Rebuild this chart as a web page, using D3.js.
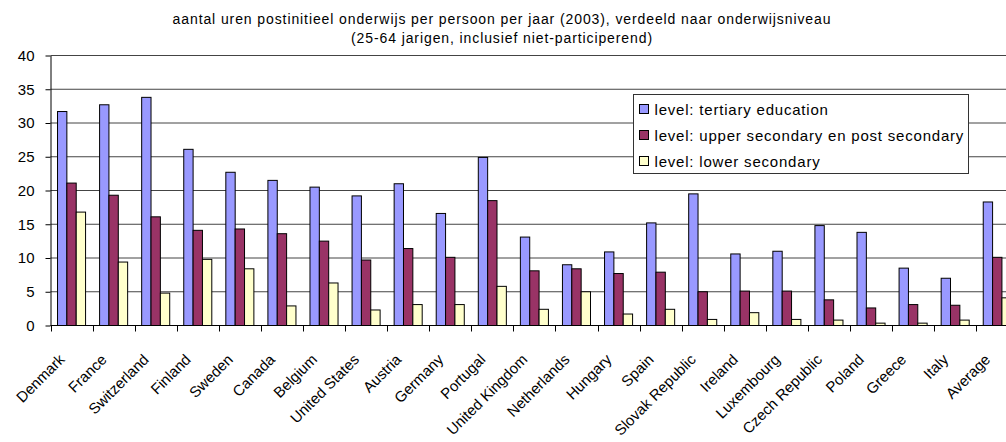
<!DOCTYPE html>
<html>
<head>
<meta charset="utf-8">
<script src="https://cdn.jsdelivr.net/npm/d3@7"></script>
<style>
  body { margin: 0; background: #fff; }
  svg { display: block; font-family: "Liberation Sans", Arial, sans-serif; }
</style>
</head>
<body>
<div class="barchart"></div>
<script>
const categories = ["Denmark", "France", "Switzerland", "Finland", "Sweden", "Canada", "Belgium",
  "United States", "Austria", "Germany", "Portugal", "United Kingdom", "Netherlands", "Hungary",
  "Spain", "Slovak Republic", "Ireland", "Luxembourg", "Czech Republic", "Poland", "Greece",
  "Italy", "Average"];

const seriesNames = ["level: tertiary education",
  "level: upper secondary en post secondary",
  "level: lower secondary"];

const tertiary = [31.7, 32.7, 33.8, 26.1, 22.7, 21.5, 20.5, 19.2, 21.0, 16.6, 24.9, 13.1, 9.0,
  10.9, 15.2, 19.5, 10.6, 11.0, 14.8, 13.8, 8.5, 7.0, 18.3];
const upperSecondary = [21.1, 19.3, 16.1, 14.1, 14.3, 13.6, 12.5, 9.7, 11.4, 10.1, 18.5, 8.1, 8.4,
  7.7, 7.9, 5.0, 5.1, 5.1, 3.8, 2.6, 3.1, 3.0, 10.1];
const lowerSecondary = [16.8, 9.4, 4.8, 9.8, 8.4, 2.9, 6.3, 2.3, 3.1, 3.1, 5.8, 2.4, 5.0,
  1.7, 2.4, 0.9, 1.9, 0.9, 0.8, 0.35, 0.35, 0.8, 4.1];

const yTicks = [0, 5, 10, 15, 20, 25, 30, 35, 40];
const colors = ["#9999ff", "#993366", "#ffffcc"];

const width = 1006;
const height = 442;
const margin = { top: 55.5, left: 50.5, bottom: 116.5 };
const plotRight = 1018.3; // plot area runs past the window edge, as in the original

const drawChart = () => {
  const svg = d3.select(".barchart")
    .append("svg")
    .attr("width", width)
    .attr("height", height);

  const y = d3.scaleLinear()
    .domain([0, 40])
    .range([height - margin.bottom, margin.top]);

  const x0 = d3.scaleBand()
    .domain(categories)
    .range([margin.left, plotRight])
    .paddingInner(0)
    .paddingOuter(0);

  // gap width 150% of a bar -> bars fill 3/4.5 of the band
  const bw = x0.bandwidth();
  const x1 = d3.scaleBand()
    .domain(d3.range(seriesNames.length))
    .range([bw * 0.75 / 4.5, bw * 3.75 / 4.5]);

  const y0 = y(0);

  // Title
  svg.append("text")
    .attr("x", 502)
    .attr("y", 24)
    .attr("text-anchor", "middle")
    .attr("font-size", 14)
    .attr("letter-spacing", 0.9)
    .text("aantal uren postinitieel onderwijs per persoon per jaar (2003), verdeeld naar onderwijsniveau");
  svg.append("text")
    .attr("x", 502)
    .attr("y", 43)
    .attr("text-anchor", "middle")
    .attr("font-size", 14)
    .attr("letter-spacing", 0.9)
    .text("(25-64 jarigen, inclusief niet-participerend)");

  // Gridlines
  svg.append("g")
    .selectAll("line")
    .data(yTicks.filter((d) => d > 0))
    .enter()
    .append("line")
    .attr("x1", margin.left)
    .attr("x2", width)
    .attr("y1", (d) => y(d))
    .attr("y2", (d) => y(d))
    .attr("stroke", "#444")
    .attr("stroke-width", 1);

  // Bars
  const seriesValues = [tertiary, upperSecondary, lowerSecondary];
  const group = svg.append("g")
    .selectAll("g")
    .data(categories)
    .enter()
    .append("g")
    .attr("transform", (d) => `translate(${x0(d)},0)`);

  group.selectAll("rect")
    .data((d, i) => seriesValues.map((vals, s) => ({ s, value: vals[i] })))
    .enter()
    .append("rect")
    .attr("x", (d) => x1(d.s))
    .attr("width", x1.bandwidth())
    .attr("y", (d) => y(d.value))
    .attr("height", (d) => y0 - y(d.value))
    .attr("fill", (d) => colors[d.s])
    .attr("stroke", "#000")
    .attr("stroke-width", 1);

  // Y axis
  const yAxis = d3.axisLeft(y)
    .tickValues(yTicks)
    .tickSize(5)
    .tickPadding(11)
    .tickSizeOuter(0);
  const gy = svg.append("g")
    .attr("transform", `translate(${margin.left},0)`)
    .call(yAxis);
  gy.selectAll("text")
    .attr("font-size", 15)
    .attr("font-family", "Liberation Sans, Arial, sans-serif")
    .attr("fill", "#000");
  gy.selectAll("line, path").attr("stroke", "#000");

  // X axis: ticks on category boundaries
  svg.append("line")
    .attr("x1", margin.left)
    .attr("x2", width)
    .attr("y1", y0)
    .attr("y2", y0)
    .attr("stroke", "#000");

  svg.append("g")
    .selectAll("line")
    .data(categories)
    .enter()
    .append("line")
    .attr("x1", (d) => Math.round(x0(d)) + 0.5)
    .attr("x2", (d) => Math.round(x0(d)) + 0.5)
    .attr("y1", y0)
    .attr("y2", y0 + 6)
    .attr("stroke", "#000");

  svg.append("g")
    .selectAll("text")
    .data(categories)
    .enter()
    .append("text")
    .attr("text-anchor", "end")
    .attr("font-size", 15)
    .attr("transform", (d) => `translate(${x0(d) + bw / 2 - 6},${y0 + 35}) rotate(-45)`)
    .text((d) => d);

  // Legend
  const legend = svg.append("g").attr("transform", "translate(633.5,94.5)");
  legend.append("rect")
    .attr("width", 335)
    .attr("height", 79)
    .attr("fill", "#fff")
    .attr("stroke", "#333");

  const item = legend.selectAll("g.item")
    .data(seriesNames)
    .enter()
    .append("g")
    .attr("class", "item")
    .attr("transform", (d, i) => `translate(0,${15 + i * 26})`);

  item.append("rect")
    .attr("x", 6)
    .attr("y", -5)
    .attr("width", 9)
    .attr("height", 9)
    .attr("fill", (d, i) => colors[i])
    .attr("stroke", "#000");

  item.append("text")
    .attr("x", 21)
    .attr("y", 5)
    .attr("font-size", 15)
    .attr("letter-spacing", 0.8)
    .text((d) => d);
};

drawChart();
</script>
</body>
</html>
